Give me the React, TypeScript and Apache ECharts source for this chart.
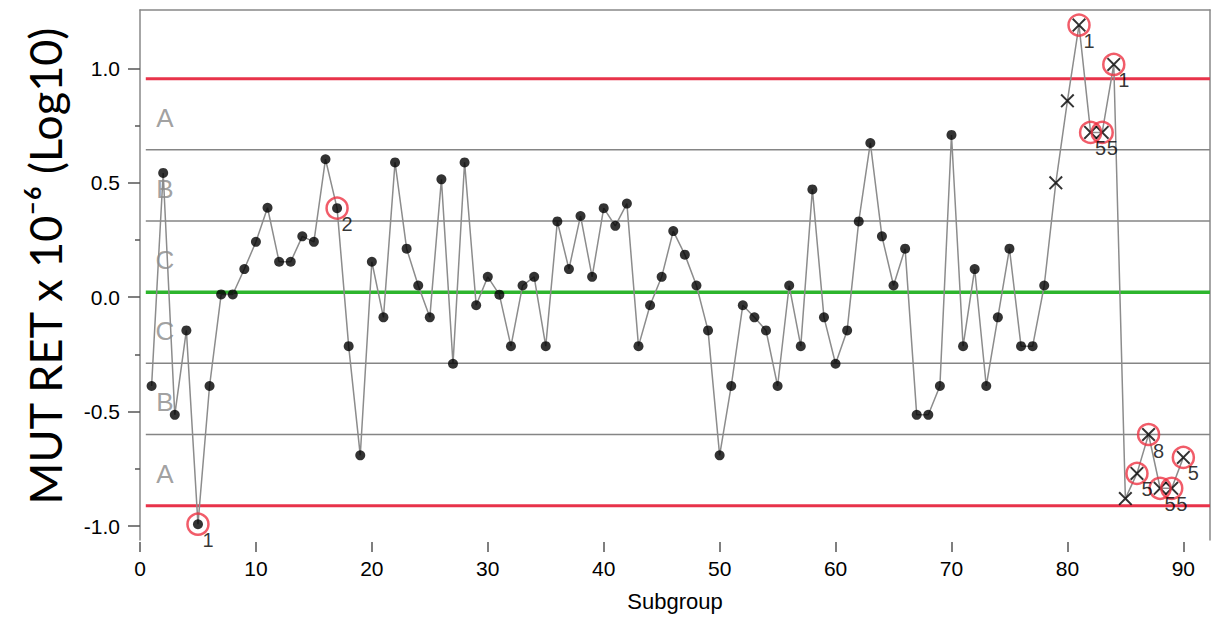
import React, { useEffect, useRef } from "react";
import * as echarts from "echarts";

// Subgroup measurements (log10 MUT RET x 1e-6)
const values: number[] = [
  -0.388, 0.543, -0.514, -0.145, -0.992, -0.388, 0.012, 0.012, 0.123, 0.242,
  0.391, 0.155, 0.155, 0.266, 0.242, 0.603, 0.389, -0.214, -0.691, 0.155,
  -0.088, 0.589, 0.212, 0.051, -0.088, 0.515, -0.291, 0.589, -0.035, 0.089,
  0.011, -0.214, 0.051, 0.089, -0.214, 0.331, 0.123, 0.355, 0.089, 0.389,
  0.312, 0.409, -0.214, -0.035, 0.089, 0.289, 0.186, 0.051, -0.145, -0.691,
  -0.388, -0.035, -0.088, -0.145, -0.388, 0.051, -0.214, 0.471, -0.088, -0.291,
  -0.145, 0.331, 0.674, 0.266, 0.051, 0.212, -0.514, -0.514, -0.388, 0.709,
  -0.214, 0.123, -0.388, -0.088, 0.212, -0.214, -0.214, 0.051, 0.5, 0.858,
  1.189, 0.72, 0.72, 1.017, -0.88, -0.77, -0.6, -0.835, -0.835, -0.7,
];

// first subgroup drawn with an "x" marker
const crossStart = 79;

// flagged subgroups and their test numbers
const flaggedSubgroups: number[] = [5, 17, 81, 82, 83, 84, 86, 87, 88, 89, 90];
const flagLabels: string[] = ["1", "2", "1", "5", "5", "1", "5", "8", "5", "5", "5"];

// control limits
const centerLine = 0.022;
const upperLimit = 0.955;
const lowerLimit = -0.911;

const zoneNames: string[] = ["A", "B", "C", "C", "B", "A"];
const zoneSigmaPos: number[] = [2.45, 1.45, 0.45, -0.55, -1.55, -2.55];

const xTicks: number[] = [0, 10, 20, 30, 40, 50, 60, 70, 80, 90];
const yTicks: number[] = [-1, -0.5, 0, 0.5, 1];
const yMinorTicks: number[] = [-0.75, -0.25, 0.25, 0.75];

const X_MIN = 0;
const X_MAX = 92.3;
const Y_MIN = -1.061;
const Y_MAX = 1.255;

const CROSS =
  "path://M2,0 L10,8 L18,0 L20,2 L12,10 L20,18 L18,20 L10,12 L2,20 L0,18 L8,10 L0,2 Z";

export default function App() {
  const ref = useRef<HTMLDivElement>(null);

  useEffect(() => {
    if (!ref.current) return;
    const chart = echarts.init(ref.current, null, { renderer: "svg" });

    const sigma = (upperLimit - centerLine) / 3;
    const pts = values.map((v, i) => [i + 1, v]);
    const circlePts = pts.filter((p) => p[0] < crossStart);
    const crossPts = pts.filter((p) => p[0] >= crossStart);
    const flagPts = flaggedSubgroups.map((s) => [s, values[s - 1]]);

    const hLine = (y: number, color: string, width: number) => ({
      type: "line",
      data: [
        [0.5, y],
        [X_MAX, y],
      ],
      showSymbol: false,
      symbol: "none",
      silent: true,
      lineStyle: { color, width },
      z: 1,
    });

    const zoneLines = [-2, -1, 1, 2].map((k) =>
      hLine(centerLine + k * sigma, "#858585", 1.5)
    );

    const font = "Liberation Sans, Arial, sans-serif";

    chart.setOption({
      animation: false,
      backgroundColor: "#ffffff",
      grid: { left: 140, right: 7, top: 10, bottom: 74 },
      xAxis: [
        {
          type: "value",
          min: X_MIN,
          max: X_MAX,
          position: "bottom",
          offset: 2,
          axisLine: { show: false, onZero: false },
          axisTick: {
            show: true,
            customValues: xTicks,
            length: 10,
            lineStyle: { color: "#555", width: 1.5 },
          },
          axisLabel: {
            customValues: xTicks,
            color: "#000",
            fontSize: 21,
            fontFamily: font,
            margin: 16,
          },
          splitLine: { show: false },
          name: "Subgroup",
          nameLocation: "middle",
          nameGap: 48,
          nameTextStyle: { color: "#000", fontSize: 22, fontFamily: font },
        },
        {
          type: "value",
          min: X_MIN,
          max: X_MAX,
          position: "top",
          axisLine: { show: true, onZero: false, lineStyle: { color: "#888", width: 1.5 } },
          axisTick: { show: false },
          axisLabel: { show: false },
          splitLine: { show: false },
        },
      ],
      yAxis: [
        {
          type: "value",
          min: Y_MIN,
          max: Y_MAX,
          position: "left",
          axisLine: { show: true, onZero: false, lineStyle: { color: "#888", width: 1.5 } },
          axisTick: {
            show: true,
            customValues: yTicks,
            length: 12,
            lineStyle: { color: "#555", width: 1.5 },
          },
          axisLabel: {
            customValues: yTicks,
            formatter: (v: number) => v.toFixed(1),
            color: "#000",
            fontSize: 21,
            fontFamily: font,
            margin: 20,
          },
          splitLine: { show: false },
        },
        {
          type: "value",
          min: Y_MIN,
          max: Y_MAX,
          position: "left",
          axisLine: { show: false, onZero: false },
          axisTick: {
            show: true,
            customValues: yMinorTicks,
            length: 5,
            lineStyle: { color: "#555", width: 1.5 },
          },
          axisLabel: { show: false, customValues: yMinorTicks },
          splitLine: { show: false },
        },
        {
          type: "value",
          min: Y_MIN,
          max: Y_MAX,
          position: "right",
          axisLine: { show: true, onZero: false, lineStyle: { color: "#888", width: 1.5 } },
          axisTick: { show: false },
          axisLabel: { show: false },
          splitLine: { show: false },
        },
      ],
      graphic: [
        {
          type: "text",
          x: 45,
          y: 266,
          rotation: Math.PI / 2,
          style: {
            text: "MUT RET x 10⁻⁶ (Log10)",
            fill: "#000",
            font: "45px Lato, 'Open Sans', sans-serif",
            textAlign: "center",
            textVerticalAlign: "middle",
          },
        },
      ],
      series: [
        ...zoneLines,
        hLine(upperLimit, "#e8334a", 3),
        hLine(lowerLimit, "#e8334a", 3),
        hLine(centerLine, "#2db52d", 3.5),
        {
          type: "scatter",
          data: zoneSigmaPos.map((k) => [2.15, centerLine + k * sigma]),
          symbolSize: 1,
          itemStyle: { color: "transparent" },
          silent: true,
          label: {
            show: true,
            position: "inside",
            formatter: (p: any) => zoneNames[p.dataIndex],
            color: "#888888",
            fontSize: 26,
            fontFamily: font,
          },
          z: 2,
        },
        {
          type: "line",
          data: pts,
          showSymbol: false,
          symbol: "none",
          lineStyle: { color: "#8c8c8c", width: 1.5 },
          z: 3,
        },
        {
          type: "scatter",
          data: circlePts,
          symbol: "circle",
          symbolSize: 10,
          itemStyle: { color: "#000" },
          z: 4,
        },
        {
          type: "scatter",
          data: crossPts,
          symbol: CROSS,
          symbolSize: 14,
          itemStyle: { color: "#000" },
          z: 4,
        },
        {
          type: "scatter",
          data: flagPts,
          symbol: "circle",
          symbolSize: 21,
          itemStyle: {
            color: "transparent",
            borderColor: "#ee3344",
            borderWidth: 2.5,
          },
          label: {
            show: true,
            position: "inside",
            offset: [10, 16],
            formatter: (p: any) => flagLabels[p.dataIndex],
            color: "#000",
            fontSize: 20,
            fontFamily: font,
          },
          z: 5,
        },
      ],
    });

    return () => chart.dispose();
  }, []);

  return (
    <div
      ref={ref}
      style={{ position: "fixed", left: 0, top: 0, width: 1217, height: 617 }}
    />
  );
}
